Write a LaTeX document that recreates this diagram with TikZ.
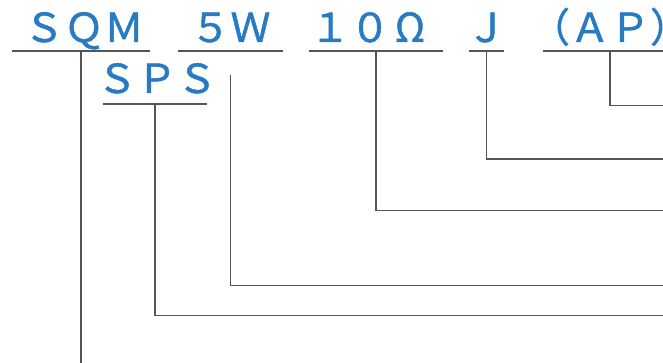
\documentclass[tikz,border=0pt]{standalone}
\usepackage{fontspec}
\newfontfamily\jpfont[FakeBold=1.2]{Noto Sans CJK JP}
\definecolor{lblblue}{RGB}{40,122,194}
\definecolor{linegray}{RGB}{85,85,85}
\newcommand\cb[1]{\makebox[40pt]{#1}}
\begin{document}
\begin{tikzpicture}[x=1pt,y=-1pt,
  lbl/.style={anchor=base,inner sep=0pt,text depth=0pt,
    font=\jpfont\fontsize{40}{40}\selectfont,text=lblblue},
  ln/.style={draw=linegray,line width=1.3pt}]
\useasboundingbox (0,0) rectangle (663,363);
% labels
\node[lbl] (sqm) at (81,42) {\hspace*{6pt}\cb{Ｓ}\cb{Ｑ}\cb{Ｍ}};
\node[lbl] (w5) at (230.5,42) {\cb{５}\cb{Ｗ}};
\node[lbl] (ohm) at (376,42) {\cb{１}\cb{０}\cb{Ω}\hspace*{12pt}};
\node[lbl] (j) at (486.5,42) {\cb{Ｊ}};
\node[lbl] (ap) at (610,42) {\cb{（}\cb{Ａ}\cb{Ｐ}\cb{）}};
\node[lbl] (sps) at (155,93) {\hspace*{4pt}\cb{Ｓ}\cb{Ｐ}\cb{Ｓ}};
% underlines
\draw[ln] ([xshift=-69pt,yshift=-9pt]sqm.base) -- ([xshift=69pt,yshift=-9pt]sqm.base);
\draw[ln] ([xshift=-52.5pt,yshift=-9pt]w5.base) -- ([xshift=52.5pt,yshift=-9pt]w5.base);
\draw[ln] ([xshift=-67pt,yshift=-9pt]ohm.base) -- ([xshift=67pt,yshift=-9pt]ohm.base);
\draw[ln] ([xshift=-17.5pt,yshift=-9pt]j.base) -- ([xshift=17.5pt,yshift=-9pt]j.base);
\draw[ln] ([xshift=-67pt,yshift=-9pt]ap.base) -- ([xshift=67pt,yshift=-9pt]ap.base);
\draw[ln] ([xshift=-52pt,yshift=-11pt]sps.base) -- ([xshift=52pt,yshift=-11pt]sps.base);
% free ends
\coordinate (eap) at (663,105.5);
\coordinate (ej) at (663,159);
\coordinate (eohm) at (663,210.5);
\coordinate (ew5) at (663,285.5);
\coordinate (esps) at (663,315.5);
\coordinate (esqm) at (81,363);
% connectors
\draw[ln] ([yshift=-9pt]ap.base) |- (eap);
\draw[ln] ([yshift=-9pt]j.base) |- (ej);
\draw[ln] ([yshift=-9pt]ohm.base) |- (eohm);
\draw[ln] ([yshift=-33pt]w5.base) |- (ew5);
\draw[ln] ([yshift=-11pt]sps.base) |- (esps);
\draw[ln] ([yshift=-9pt]sqm.base) -- (esqm);
\end{tikzpicture}
\end{document}
